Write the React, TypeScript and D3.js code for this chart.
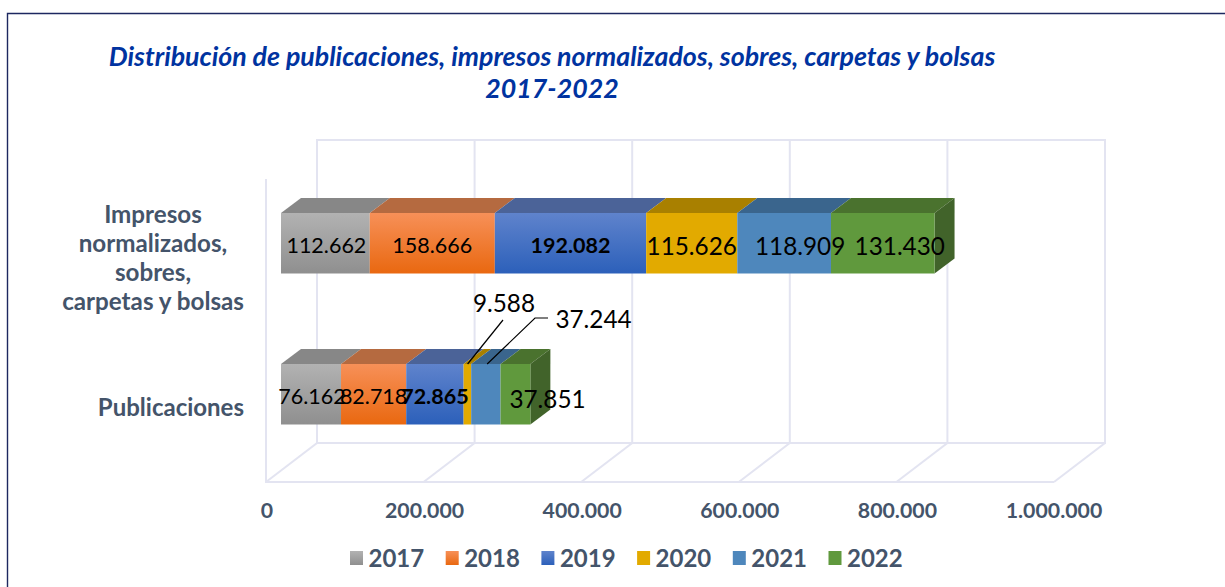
import React from 'react';
import * as d3 from 'd3';

const categories = ['Impresos normalizados, sobres, carpetas y bolsas', 'Publicaciones'];
const years = ['2017', '2018', '2019', '2020', '2021', '2022'];
const impresos = [112662, 158666, 192082, 115626, 118909, 131430];
const publicaciones = [76162, 82718, 72865, 9588, 37244, 37851];
const seriesByCategory = [impresos, publicaciones];
const xTicks = [0, 200000, 400000, 600000, 800000, 1000000];

const frontTop = ['#b2b2b2', '#f79058', '#5f83cc', '#e2aa00', '#4e87bc', '#60993d'];
const frontBottom = ['#8f8f8f', '#e96810', '#2c60ba', '#e2aa00', '#4e87bc', '#60993d'];
const topColors = ['#878787', '#b56a40', '#4b6398', '#a98000', '#3a658d', '#4a722e'];
const sideColor = '#41632a';
const gridColor = '#e3e4f1';
const textColor = '#44546a';
const font = 'Lato, sans-serif';

// 3D box offset of the plot and of the bars
const wallDx = 51;
const wallDy = -39;
const barDx = 20;
const barDy = -15;

const fmt = (v: number) => d3.format(',')(v).replace(/,/g, '.');

const App = () => {
    const x = d3.scaleLinear().domain([0, 1000000]).range([266, 1054]);
    const floorY = 482;
    const wallTop = 140;
    const barX = (v: number) => x(v) + 15;
    const barTops = [213, 364];
    const barH = 60.5;

    return (
        <svg width={1225} height={587} style={{ position: 'absolute', left: 0, top: 0 }}>
            <defs>
                {years.map((y, i) => (
                    <linearGradient key={y} id={`g${y}`} x1="0" x2="0" y1="0" y2="1">
                        <stop offset="0" stopColor={frontTop[i]} />
                        <stop offset="1" stopColor={frontBottom[i]} />
                    </linearGradient>
                ))}
            </defs>
            <path d="M1225,13.5H7.5V587" fill="none" stroke="#1d2860" strokeWidth={1.4} />

            <text x={552} y={66} textAnchor="middle" fontFamily={font} fontSize={26.75} fontWeight={700} fontStyle="italic" fill="#0033a0">
                Distribución de publicaciones, impresos normalizados, sobres, carpetas y bolsas
            </text>
            <text x={552} y={98} textAnchor="middle" fontFamily={font} fontSize={26.75} fontWeight={700} fontStyle="italic" fill="#0033a0">
                2017-2022
            </text>

            {/* walls and floor */}
            <g fill="none" stroke={gridColor} strokeWidth={2}>
                <path d={`M${x(0)},${wallTop + 39}V${floorY}H${x(1000000)}`} />
                <path d={`M${x(0) + wallDx},${wallTop}H${x(1000000) + wallDx}V${floorY + wallDy}H${x(0) + wallDx}Z`} />
                {xTicks.map(t => (
                    <path key={t} d={`M${x(t)},${floorY}L${x(t) + wallDx},${floorY + wallDy}V${wallTop}`} />
                ))}
            </g>

            {xTicks.map(t => (
                <text key={t} x={x(t) + (t === 1000000 ? 0 : 1)} y={518} textAnchor="middle" fontFamily={font} fontSize={21.3} fontWeight={700} fill={textColor}>
                    {fmt(t)}
                </text>
            ))}

            {/* bars */}
            {seriesByCategory.map((values, row) => {
                const y0 = barTops[row];
                let sum = 0;
                const segs = values.map((v, i) => {
                    const s = { i, v, start: sum, end: sum + v };
                    sum += v;
                    return s;
                });
                const end = barX(sum);
                return (
                    <g key={row}>
                        {segs.map(s => (
                            <path
                                key={s.i}
                                fill={topColors[s.i]}
                                d={`M${barX(s.start)},${y0}l${barDx},${barDy}H${barX(s.end) + barDx}l${-barDx},${-barDy}Z`}
                            />
                        ))}
                        <path fill={sideColor} d={`M${end},${y0}l${barDx},${barDy}v${barH}l${-barDx},${-barDy}Z`} />
                        {segs.map(s => (
                            <rect key={s.i} x={barX(s.start)} y={y0} width={barX(s.end) - barX(s.start)} height={barH} fill={`url(#g${years[s.i]})`} />
                        ))}
                    </g>
                );
            })}

            {/* leader lines of the two thin segments */}
            <g fill="none" stroke="#000" strokeWidth={1.2}>
                <path d={`M${barX(d3.sum(publicaciones.slice(0, 3))) + 4},${barTops[1]}L503,320`} />
                <path d={`M${barX(d3.sum(publicaciones.slice(0, 4))) + 16},${barTops[1]}L535,318H548`} />
            </g>

            {/* data labels */}
            {seriesByCategory.map((values, row) => {
                let sum = 0;
                return values.map((v, i) => {
                    const mid = barX(sum + v / 2);
                    sum += v;
                    const isBold = i === 2;
                    const isLarge = i > 2;
                    let lx = mid + (i === 0 ? 1 : 0);
                    let ly = barTops[row] + (isLarge ? 42 : 40);
                    if (row === 0 && i === 4) lx = mid + 16;
                    if (row === 0 && i === 5) lx = mid + 17;
                    if (row === 1) {
                        if (i === 3) { lx = 504; ly = 312; }
                        if (i === 4) { lx = 593.5; ly = 328; }
                        if (i === 5) { lx = 547.5; ly = 408; }
                    }
                    return (
                        <text key={`${row}-${i}`} x={lx} y={ly} textAnchor="middle" fontFamily={font} fontSize={isLarge ? 24.3 : 21.5} fontWeight={isBold ? 700 : 400} fill="#000">
                            {fmt(v)}
                        </text>
                    );
                });
            })}

            {/* category labels */}
            <g fontFamily={font} fontSize={24.2} fontWeight={700} fill={textColor}>
                <text x={153} y={223} textAnchor="middle">Impresos</text>
                <text x={153} y={252} textAnchor="middle">normalizados,</text>
                <text x={153} y={281} textAnchor="middle">sobres,</text>
                <text x={244} y={310} textAnchor="end">carpetas y bolsas</text>
                <text x={244} y={416} textAnchor="end" fontSize={24}>{categories[1]}</text>
            </g>

            {/* legend */}
            {years.map((y, i) => {
                const lx = d3.scaleLinear().domain([0, 5]).range([350, 828.5])(i);
                return (
                    <g key={y}>
                        <rect x={lx} y={551} width={13} height={14} fill={`url(#g${y})`} />
                        <text x={lx + 18.5} y={567} fontFamily={font} fontSize={24} fontWeight={700} fill={textColor}>{y}</text>
                    </g>
                );
            })}
        </svg>
    );
};

export default App;
